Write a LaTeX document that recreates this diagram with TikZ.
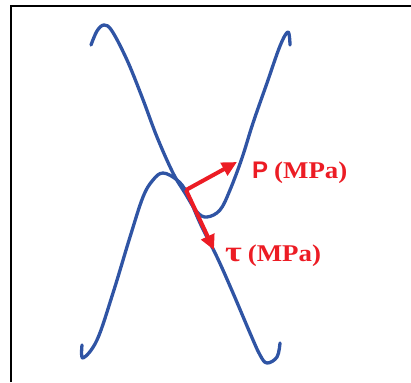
\documentclass[tikz,border=0pt]{standalone}
\usepackage{graphicx}
\usepackage{fontspec}
\setmainfont{Liberation Serif}
\newfontfamily\labelsans{Liberation Sans}
\usetikzlibrary{arrows.meta,positioning}
\definecolor{curveblue}{RGB}{47,84,164}
\definecolor{forcered}{RGB}{236,28,36}

\begin{document}
\begin{tikzpicture}[
  x=1pt, y=-1pt,
  curve/.style={curveblue, line width=3.3pt, line cap=round, line join=round},
  force/.style={forcered, line width=4pt, -{Triangle[length=15pt,width=14pt]}},
  flabel/.style={forcered, font=\bfseries\fontsize{24}{27}\selectfont, anchor=base west, inner sep=0pt}
]
\useasboundingbox (0,0) rectangle (411,382);

% frame
\draw[line width=2pt] (11,382) -- (11,6) -- (411,6);

% upper curve
\draw[curve] plot[smooth, tension=0.6] coordinates {
  (91,45) (97,31) (104,25) (112,31) (127,60) (142,97) (157,137) (173,173)
  (185,193) (197,212) (207,217) (220,210) (230,190) (242,158) (253,123)
  (267,83) (280,46) (288,32) (290,45)};

% lower curve
\draw[curve] plot[smooth, tension=0.6] coordinates {
  (82,345) (83,358) (97,340) (113,293) (130,237) (143,197) (153,180)
  (163,173) (177,180) (187,193) (200,223) (217,257) (233,293) (250,333)
  (260,355) (267,363) (277,357) (280,343)};

% forces
\coordinate (o) at (186,190);
\coordinate (ptip) at (237,162);
\coordinate (ttip) at (214,250);
\draw[force] (o) -- (ptip);
\draw[force] (o) -- (ttip);

\node[flabel] (plabel) at (252,178) {{\labelsans P} \scalebox{1.12}[1]{(MPa)}};
\node[flabel] (tlabel) at (225,261) {\scalebox{1.25}[1]{\fontsize{29}{30}\selectfont τ} \scalebox{1.12}[1]{(MPa)}};
\end{tikzpicture}
\end{document}
